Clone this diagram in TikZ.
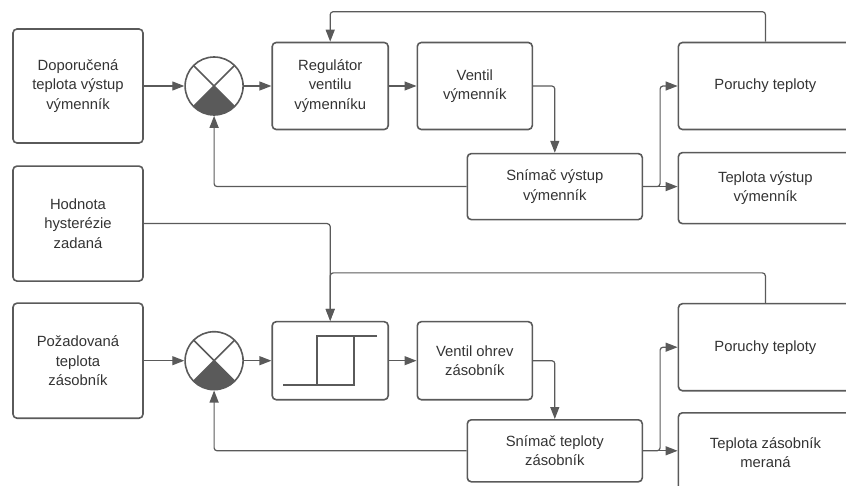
\documentclass[tikz,border=0pt]{standalone}
\usepackage{fontspec}
\setmainfont{Liberation Sans}
\usetikzlibrary{positioning, arrows.meta}
\definecolor{linegray}{HTML}{5A5A5A}
\definecolor{textgray}{HTML}{333333}
\tikzstyle{block} = [rectangle, rounded corners=4pt, draw=linegray, line width=1.6pt, text=textgray, align=center, inner sep=2pt, font=\fontsize{14.8}{19.5}\selectfont]
\tikzstyle{sum} = [circle, draw=linegray, line width=1.6pt, minimum size=58pt, inner sep=0pt,
	path picture={
		\fill[linegray] (path picture bounding box.center) -- (path picture bounding box.south west) -- (path picture bounding box.south east) -- cycle;
		\draw[linegray, line width=1.6pt] (path picture bounding box.south west) -- (path picture bounding box.north east)
			(path picture bounding box.north west) -- (path picture bounding box.south east);
	}]
\tikzstyle{arrow} = [line width=1.2pt, draw=linegray, rounded corners=3pt, ->, >={Triangle[length=12pt,width=9pt]}]
\tikzstyle{line} = [line width=1.6pt, draw=linegray]

\begin{document}
\begin{tikzpicture}[x=1pt, y=-1pt]
	\useasboundingbox (0,0) rectangle (846,486);
	
	% Nodes
	\node (dop) [block, minimum width=130pt, minimum height=114pt] at (78,86) {Doporučená\\teplota výstup\\výmenník};
	\node (sum1) [sum, right=40.5pt of dop] {};
	\node (reg) [block, minimum width=116pt, minimum height=87pt, right=27.5pt of sum1] {Regulátor\\ventilu\\výmenníku};
	\node (vent) [block, minimum width=115pt, minimum height=87pt, right=27.5pt of reg] {Ventil\\výmenník};
	\node (snim1) [block, minimum width=175pt, minimum height=66pt, below=22.5pt of vent, xshift=80pt] {Snímač výstup\\výmenník};
	\node (por1) [block, minimum width=174pt, minimum height=87pt, right=144.5pt of vent] {Poruchy teploty};
	\node (tep1) [block, minimum width=174pt, minimum height=71pt, below=21.5pt of por1] {Teplota výstup\\výmenník};
	\node (hod) [block, minimum width=130pt, minimum height=115pt, below=21.5pt of dop] {Hodnota\\hysterézie\\zadaná};
	\node (poz) [block, minimum width=130pt, minimum height=115pt, below=20.5pt of hod] {Požadovaná\\teplota\\zásobník};
	\node (sum2) [sum, right=40.5pt of poz] {};
	\node (hyst) [block, minimum width=116pt, minimum height=78pt, right=27.5pt of sum2] {};
	\node (vent2) [block, minimum width=115pt, minimum height=78pt, right=27.5pt of hyst] {Ventil ohrev\\zásobník};
	\node (snim2) [block, minimum width=175pt, minimum height=62pt, below=18.5pt of vent2, xshift=80pt] {Snímač teploty\\zásobník};
	\node (por2) [block, minimum width=174pt, minimum height=87pt, right=144.5pt of vent2, yshift=13.5pt] {Poruchy teploty};
	\node (tep2) [block, minimum width=174pt, minimum height=80pt, below=20.5pt of por2] {Teplota zásobník\\meraná};
	
	% Hysteresis symbol
	\draw [line] ([xshift=-47pt,yshift=-24pt]hyst.center) -- ([xshift=24pt,yshift=-24pt]hyst.center) -- ([xshift=24pt,yshift=25pt]hyst.center);
	\draw [line] ([xshift=47pt,yshift=25pt]hyst.center) -- ([xshift=-13pt,yshift=25pt]hyst.center) -- ([xshift=-13pt,yshift=-24pt]hyst.center);
	
	% Arrows
	\draw [arrow] (dop) -- (sum1);
	\draw [arrow] (sum1) -- (reg);
	\draw [arrow] (reg) -- (vent);
	\draw [arrow] (vent.east) -| (snim1.north);
	\draw [arrow] (snim1.west) -| (sum1.south);
	\draw [arrow] (snim1.east) -- (snim1.east -| tep1.west);
	\draw [arrow] (snim1.east) -- ++(17,0) |- (por1.west);
	\draw [arrow] (por1.north) -- ++(0,-30) -| (reg.north);
	
	\draw [arrow] (hod.east) -| (hyst.north);
	\draw [arrow] (por2.north) -- ++(0,-30) -| (hyst.north);
	\draw [arrow] (poz) -- (sum2);
	\draw [arrow] (sum2) -- (hyst);
	\draw [arrow] (hyst) -- (vent2);
	\draw [arrow] (vent2.east) -| (snim2.north);
	\draw [arrow] (snim2.west) -| (sum2.south);
	\draw [arrow] (snim2.east) -- (snim2.east -| tep2.west);
	\draw [arrow] (snim2.east) -- ++(17,0) |- (por2.west);
	
\end{tikzpicture}
\end{document}
